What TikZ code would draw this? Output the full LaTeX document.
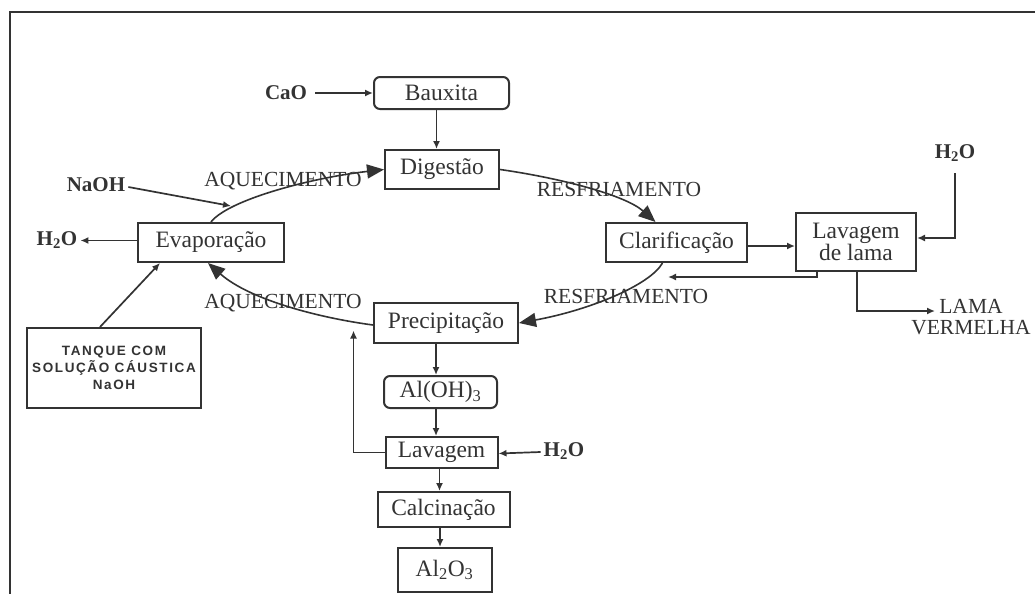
\documentclass[tikz,border=0pt]{standalone}
\usepackage{fontspec}
\setmainfont{Liberation Serif}
\newfontfamily\tanqfont[LetterSpace=12]{Liberation Sans}
\usetikzlibrary{arrows.meta,calc}
\definecolor{ink}{HTML}{333333}
\newcommand\bxfont{\fontsize{23.5}{22}\selectfont}
\newcommand\lbfont{\fontsize{21.5}{21}\selectfont}
\newcommand\inpfont{\fontsize{21}{22}\selectfont\bfseries}
\begin{document}
\begin{tikzpicture}[x=1pt,y=-1pt,
  box/.style={draw=ink, line width=2pt, inner sep=0pt, font=\bxfont, text=ink, align=center},
  rbox/.style={box, rounded corners=6pt},
  lbl/.style={font=\lbfont, text=ink, inner sep=0pt, align=center},
  inp/.style={font=\inpfont, text=ink, inner sep=0pt},
  arr/.style={draw=ink, line width=1.7pt, -{Latex[length=8pt,width=7pt]}},
  bigarr/.style={draw=ink, line width=1.6pt, -{Triangle[length=17pt,width=14pt]}}]
\useasboundingbox (0,0) rectangle (1035,594);
\fill[white] (0,0) rectangle (1035,594);
% frame
\draw[line width=2.4pt, draw=ink] (1035,12) -- (10,12) -- (10,594);

% boxes
\node[rbox, minimum width=135pt, minimum height=32pt] (bauxita) at (441.5,93) {Bauxita};
\node[box, minimum width=114pt, minimum height=39pt] (digestao) at (442,169.5) {Digestão};
\node[box, minimum width=146pt, minimum height=39pt] (evap) at (211,242.5) {Evaporação};
\node[box, minimum width=141pt, minimum height=39pt] (clar) at (676.5,242.5) {Clarificação};
\node[box, minimum width=120pt, minimum height=58pt] (lavlama) at (856,242) {Lavagem\\de lama};
\node[box, minimum width=144pt, minimum height=40pt] (precip) at (446,323) {Precipitação};
\node[rbox, minimum width=113pt, minimum height=32pt] (aloh) at (440.5,392) {Al(OH)\textsubscript{3}};
\node[box, minimum width=112pt, minimum height=31pt] (lavagem) at (441.5,452.5) {Lavagem};
\node[box, minimum width=132pt, minimum height=35pt] (calc) at (443.5,509.5) {Calcinação};
\node[box, minimum width=94pt, minimum height=44pt] (al2o3) at (444.5,570) {Al\textsubscript{2}O\textsubscript{3}};
\node[box, minimum width=174pt, minimum height=80pt, font={\tanqfont\fontsize{13.5}{17}\selectfont\bfseries}] (tanque) at (114,368) {TANQUE COM\\SOLUÇÃO CÁUSTICA\\NaOH};

% inputs / outputs
\node[inp] (cao) at (286,93) {CaO};
\node[inp] (naoh) at (96,185) {NaOH};
\node[inp] (h2oL) at (57,240) {H\textsubscript{2}O};
\node[inp] (h2oR) at (955,153) {H\textsubscript{2}O};
\node[inp] (h2oB) at (564,451) {H\textsubscript{2}O};
\node[lbl] (lama) at (971,317) {LAMA\\VERMELHA};

% labels
\node[lbl] (aq1) at (283,181) {AQUECIMENTO};
\node[lbl] (rf1) at (619,189) {RESFRIAMENTO};
\node[lbl] (rf2) at (626,296) {RESFRIAMENTO};
\node[lbl] (aq2) at (283,303) {AQUECIMENTO};

% cycle curves
\draw[bigarr] (evap.north) .. controls (228,200) and (310,178) .. (digestao.west);
\draw[bigarr] (digestao.east) .. controls (560,178) and (625,195) .. ([xshift=-21pt]clar.north);
\draw[bigarr] ([xshift=-14pt]clar.south) .. controls (650,285) and (590,310) .. (precip.east);
\draw[bigarr] ([yshift=-2pt]precip.west) .. controls (320,318) and (250,300) .. ([xshift=-3pt]evap.south);

% straight connectors
\draw[arr] ([xshift=8pt]cao.east) -- (bauxita.west);
\draw[arr] ([xshift=-5pt]bauxita.south) -- ([xshift=-5pt]bauxita.south |- digestao.north);
\coordinate (naohend) at (231,206);
\draw[arr] ([xshift=3pt,yshift=-2pt]naoh.east) -- (naohend);
\draw[arr] ([yshift=2pt]evap.west) -- ([xshift=3pt,yshift=2pt]h2oL.east |- evap.west);
\draw[arr] ([xshift=-14pt]tanque.north) -- ([xshift=-51pt]evap.south);
\draw[arr] ([yshift=-3.5pt]clar.east) -- ([yshift=-3.5pt]clar.east -| lavlama.west);
\draw[arr] ([yshift=-20pt]h2oR.center) |- ([yshift=4pt]lavlama.east);
\coordinate (retend) at (668,277);
\draw[arr] ([xshift=-39pt]lavlama.south) |- (retend);
\coordinate (lamaend) at (935,311);
\draw[arr] ([xshift=1pt]lavlama.south) |- (lamaend);
\draw[arr] ([xshift=-10pt]precip.south) -- ([xshift=-10pt]precip.south |- aloh.north);
\draw[arr] ([xshift=-4.5pt]aloh.south) -- ([xshift=-4.5pt]aloh.south |- lavagem.north);
\draw[arr] ([xshift=-2pt]lavagem.south) -- ([xshift=-2pt]lavagem.south |- calc.north);
\draw[arr] ([xshift=-3.5pt]calc.south) -- ([xshift=-3.5pt]calc.south |- al2o3.north);
\draw[arr] (lavagem.west) -- ++(-31,0) -- ++(0,-122);
\draw[arr] ([xshift=-3pt,yshift=-1pt]h2oB.west) -- ([yshift=-1pt]lavagem.east);
\end{tikzpicture}
\end{document}
